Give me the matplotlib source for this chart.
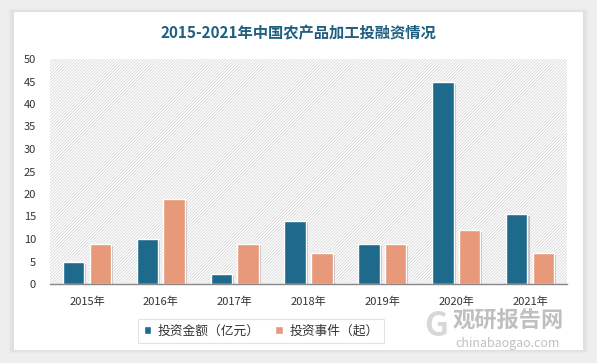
"""2015-2021 China agri-product processing investment chart."""
import matplotlib
matplotlib.use('Agg')
import matplotlib.pyplot as plt
from matplotlib.patches import Rectangle
import matplotlib.patheffects as pe
import numpy as np

plt.rcParams['font.family'] = ['Noto Sans CJK SC', 'DejaVu Sans']
plt.rcParams['hatch.linewidth'] = 0.5
plt.rcParams['hatch.color'] = '#d0d0d0'

BLUE = '#1d6a8c'
ORANGE = '#e8997a'
TITLE_C = '#1f5f7f'
TEXT = '#333333'

years = ['2015年', '2016年', '2017年', '2018年', '2019年', '2020年', '2021年']
amount = [5, 10, 2.3, 14, 9, 45, 15.5]      # 投资金额（亿元）
events = [9, 19, 9, 7, 9, 12, 7]           # 投资事件（起）
yticks = [0, 5, 10, 15, 20, 25, 30, 35, 40, 45, 50]

fig = plt.figure(figsize=(5.97, 3.63), dpi=100)
fig.patch.set_facecolor('#eeeeee')

# white card with soft shadow
for i, a in enumerate([0.05, 0.05, 0.06]):
    d = (3 - i) * 0.003
    fig.patches.append(Rectangle((14/597 - d, 1 - 350/363 - d), 569/597 + 2*d, 338/363 + 2*d,
                                 transform=fig.transFigure, facecolor='#999999', alpha=a,
                                 edgecolor='none', zorder=0))
fig.patches.append(Rectangle((14/597, 1 - 350/363), 569/597, 338/363,
                             transform=fig.transFigure, facecolor='white',
                             edgecolor='none', zorder=1))

ax = fig.add_axes([50/597, 1 - 284/363, 517/597, 225/363])
ax.set_zorder(3)
ax.set_facecolor('white')
ax.add_patch(Rectangle((0, 0), 1, 1, transform=ax.transAxes, facecolor='white',
                       hatch='/' * 11, edgecolor='#d0d0d0', linewidth=0, zorder=0))

x = np.arange(len(years))
w = 0.29
off = 0.18
shadow = [pe.SimplePatchShadow(offset=(1.5, -1.5), shadow_rgbFace='#888888', alpha=0.45), pe.Normal()]
b1 = ax.bar(x - off, amount, w, color=BLUE, edgecolor='white', linewidth=1,
            label='投资金额（亿元）', zorder=3)
b2 = ax.bar(x + off, events, w, color=ORANGE, edgecolor='white', linewidth=1,
            label='投资事件（起）', zorder=3)
for b in list(b1) + list(b2):
    b.set_path_effects(shadow)

ax.set_xlim(-0.5, len(years) - 0.5)
ax.set_ylim(0, 50)
ax.set_yticks(yticks)
ax.set_xticks(x)
ax.set_xticklabels(years)
ax.tick_params(axis='both', length=0, labelsize=8, colors=TEXT)
ax.tick_params(axis='x', pad=9)
ax.tick_params(axis='y', pad=10)
for s in ['top', 'right', 'left']:
    ax.spines[s].set_visible(False)
ax.spines['bottom'].set_color('#888888')
ax.spines['bottom'].set_linewidth(1)
ax.spines['bottom'].set_zorder(4)

fig.text(0.5, 1 - 33/363, '2015-2021年中国农产品加工投融资情况', ha='center', va='center',
         fontsize=11, fontweight='bold', color=TITLE_C, zorder=5)

leg = fig.legend(handles=[b1, b2], loc='center', bbox_to_anchor=(261/597, 1 - 331/363),
                 ncol=2, fontsize=9.2, frameon=True, fancybox=False, handlelength=0.6,
                 handleheight=0.6, handletextpad=0.5, columnspacing=1.2, borderpad=0.45)
leg.set_zorder(5)
leg.get_frame().set_edgecolor('#dddddd')
leg.get_frame().set_linewidth(0.8)
for t in leg.get_texts():
    t.set_color(TEXT)
for h in leg.legend_handles:
    h.set_path_effects([])

# watermark
fig.text(508/597, 1 - 321/363, '观研报告网', ha='center', va='center', fontsize=16,
         fontweight='bold', color='#b0b0b0', alpha=0.8, zorder=6)
fig.text(508/597, 1 - 343/363, 'chinabaogao.com', ha='center', va='center', fontsize=9,
         color='#b0b0b0', alpha=0.8, zorder=6)
fig.text(436/597, 1 - 327/363, 'G', ha='center', va='center', fontsize=24,
         fontweight='bold', color='#c8c8c8', alpha=0.7, zorder=6)

plt.savefig('out.png', dpi=100, facecolor=fig.get_facecolor())
plt.close()
